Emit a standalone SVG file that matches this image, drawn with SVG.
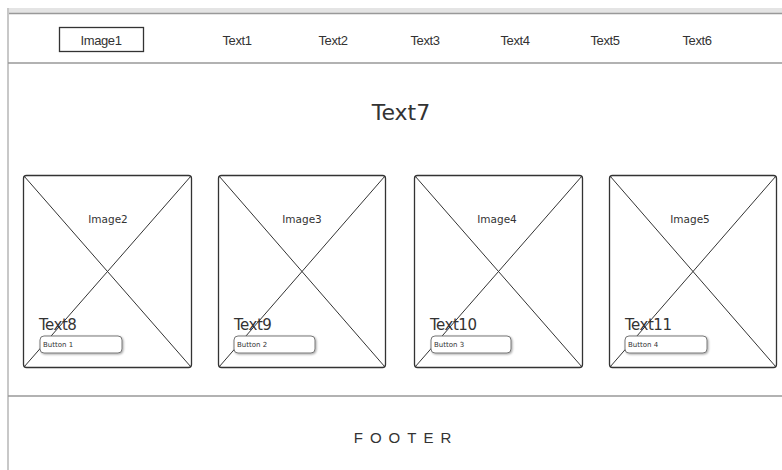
<svg xmlns="http://www.w3.org/2000/svg" width="782" height="470" viewBox="0 0 782 470">
<defs>
<filter id="sh" x="-10%" y="-30%" width="130%" height="180%">
<feDropShadow dx="1" dy="1" stdDeviation="0.8" flood-color="#000" flood-opacity="0.35"/>
</filter>
</defs>
<style>
.nav{font-family:"Liberation Sans",Arial,sans-serif;font-size:13px;fill:#333;text-anchor:middle;letter-spacing:-0.4px}
.card{fill:#fff;stroke:#333;stroke-width:1.3}
.x{stroke:#333;stroke-width:1}
.lbl{font-family:"DejaVu Sans",sans-serif;font-size:10.5px;fill:#333;text-anchor:middle}
.t{font-family:"DejaVu Sans",sans-serif;font-size:15px;fill:#333;letter-spacing:-0.5px}
.btn{fill:#fff;stroke:#777;stroke-width:1;filter:url(#sh)}
.bt{font-family:"DejaVu Sans",sans-serif;font-size:7px;fill:#333}
.sep{stroke:#999;stroke-width:1.5}
</style>
<rect width="782" height="470" fill="#fff"/>
<g id="frame">
<rect x="8" y="8" width="774" height="5" fill="#e4e4e4"/>
<line x1="8" y1="13.5" x2="782" y2="13.5" stroke="#999" stroke-width="1.5"/>
<line x1="8" y1="8" x2="8" y2="470" stroke="#c8c8c8" stroke-width="2"/>
<line class="sep" x1="8" y1="63" x2="782" y2="63"/>
<line class="sep" x1="8" y1="396" x2="782" y2="396"/>
</g>
<g id="header">
<rect x="59.5" y="27.5" width="84" height="24" fill="#fff" stroke="#333" stroke-width="1.3"/>
<text class="nav" x="101" y="45">Image1</text>
<text class="nav" x="237" y="45">Text1</text>
<text class="nav" x="333" y="45">Text2</text>
<text class="nav" x="425" y="45">Text3</text>
<text class="nav" x="515" y="45">Text4</text>
<text class="nav" x="605" y="45">Text5</text>
<text class="nav" x="697" y="45">Text6</text>
</g>
<g id="title">
<text x="401" y="120" font-family="DejaVu Sans, sans-serif" font-size="22" fill="#333" text-anchor="middle">Text7</text>
</g>
<g id="card1">
<rect class="card" x="23.5" y="175.5" width="168" height="192" rx="3"/>
<line class="x" x1="24" y1="176" x2="191" y2="367"/>
<line class="x" x1="191" y1="176" x2="24" y2="367"/>
<text class="lbl" x="108" y="223">Image2</text>
<text class="t" x="39" y="330">Text8</text>
<rect class="btn" x="40" y="336" width="82" height="17" rx="4"/>
<text class="bt" x="43" y="347">Button 1</text>
</g>
<g id="card2">
<rect class="card" x="218.5" y="175.5" width="167" height="192" rx="3"/>
<line class="x" x1="219" y1="176" x2="385" y2="367"/>
<line class="x" x1="385" y1="176" x2="219" y2="367"/>
<text class="lbl" x="302" y="223">Image3</text>
<text class="t" x="234" y="330">Text9</text>
<rect class="btn" x="234" y="336" width="81" height="17" rx="4"/>
<text class="bt" x="237" y="347">Button 2</text>
</g>
<g id="card3">
<rect class="card" x="414.5" y="175.5" width="168" height="192" rx="3"/>
<line class="x" x1="415" y1="176" x2="582" y2="367"/>
<line class="x" x1="582" y1="176" x2="415" y2="367"/>
<text class="lbl" x="497" y="223">Image4</text>
<text class="t" x="430" y="330">Text10</text>
<rect class="btn" x="431" y="336" width="80" height="17" rx="4"/>
<text class="bt" x="434" y="347">Button 3</text>
</g>
<g id="card4">
<rect class="card" x="609.5" y="175.5" width="167" height="192" rx="3"/>
<line class="x" x1="610" y1="176" x2="776" y2="367"/>
<line class="x" x1="776" y1="176" x2="610" y2="367"/>
<text class="lbl" x="690" y="223">Image5</text>
<text class="t" x="625" y="330">Text11</text>
<rect class="btn" x="625" y="336" width="82" height="17" rx="4"/>
<text class="bt" x="628" y="347">Button 4</text>
</g>
<g id="footer">
<text x="406" y="443" font-family="Liberation Sans, Arial, sans-serif" font-size="15" fill="#333" text-anchor="middle" letter-spacing="7">FOOTER</text>
</g>
</svg>
